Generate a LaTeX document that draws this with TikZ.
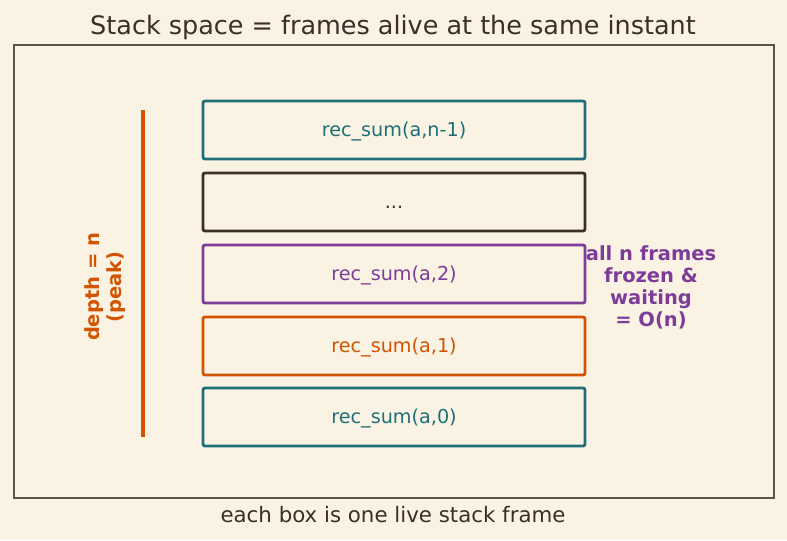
\documentclass[tikz,border=0pt]{standalone}
\usepackage{fontspec}
\setmainfont{DejaVu Sans}
\usepackage{tikz}

\definecolor{paper}{HTML}{FAF3E4}
\definecolor{ink}{HTML}{3B2F28}
\definecolor{rim}{HTML}{5C5245}
\definecolor{tealc}{HTML}{1F6F78}
\definecolor{purplec}{HTML}{7D3C98}
\definecolor{orangec}{HTML}{D35400}

\begin{document}
\begin{tikzpicture}[x=0.75pt,y=-0.75pt,
	frame/.style={draw=#1,text=#1,line width=2.1pt,rounded corners=1.5pt,
		minimum width=286.5pt,minimum height=43.5pt,inner sep=0pt,
		text height=12pt,text depth=3pt,
		font=\fontsize{14.4pt}{17pt}\selectfont},
	tag/.style={text=#1,align=center,font=\fontsize{14.6pt}{16.5pt}\selectfont\bfseries}]
\fill[paper] (0,0) rectangle (787,540);
\useasboundingbox (0,0) rectangle (787,540);
\draw[rim,line width=1.1pt] (14,45) rectangle (774,498);

\node[ink,font=\fontsize{19.1pt}{23pt}\selectfont] (title) at (393,27) {Stack space = frames alive at the same instant};
\node[ink,font=\fontsize{16pt}{19pt}\selectfont] (caption) at (393,515) {each box is one live stack frame};

% stack frames, top to bottom
\foreach \y/\name/\txt/\col in {130/fn1/{rec\_sum(a,n-1)}/tealc, 202/fdots/{...}/ink,
	274/f2/{rec\_sum(a,2)}/purplec, 346/f1/{rec\_sum(a,1)}/orangec, 417/f0/{rec\_sum(a,0)}/tealc}{
	\node[frame=\col] (\name) at (394,\y) {\txt};
	}

% depth marker
\coordinate (dtop) at (143,110);
\coordinate (dbot) at (143,437);
\draw[orangec,line width=2.4pt] (dtop) -- (dbot);
\node[tag=orangec,rotate=90] (depth) at (105,287) {depth = n\\(peak)};

\node[tag=purplec] (frozen) at (651,287) {all n frames\\frozen \&\\waiting\\= O(n)};
\end{tikzpicture}
\end{document}
